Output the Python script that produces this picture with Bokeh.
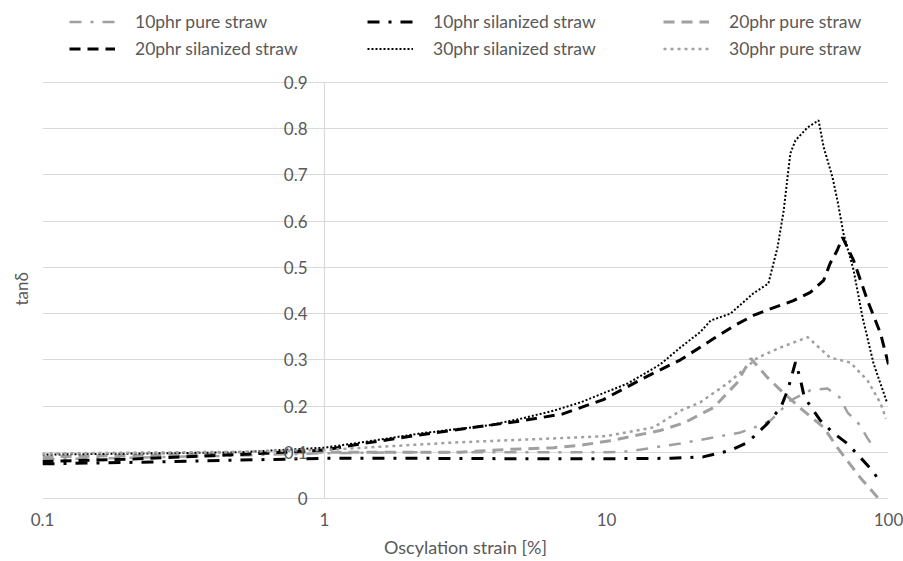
from bokeh.plotting import figure
from bokeh.models import (Range1d, FixedTicker, Legend, LegendItem, LabelSet,
                          ColumnDataSource, CustomJSTickFormatter, Title)
from bokeh.core.properties import value
from bokeh.embed import file_html
from bokeh.resources import INLINE

# ---- data ----
x_10_pure = [0.1, 0.2, 0.5, 1, 2, 5, 10, 12, 18.3, 24, 29.9, 35, 38.2, 44.9, 52.8, 60.8, 67, 71.6, 78.9, 84.3, 87]
y_10_pure = [0.085, 0.088, 0.093, 0.098, 0.1, 0.1, 0.1, 0.102, 0.119, 0.132, 0.143, 0.158, 0.169, 0.212, 0.234, 0.238, 0.219, 0.186, 0.16, 0.13, 0.118]

x_10_sil = [0.1, 0.2, 0.5, 1, 2, 5, 10, 17, 22, 27.5, 31.6, 37.2, 41.5, 43.9, 46.8, 48.6, 50.3, 57.3, 63.4, 71.4, 79.4, 87.5, 92.6, 95]
y_10_sil = [0.075, 0.078, 0.083, 0.087, 0.087, 0.086, 0.086, 0.087, 0.09, 0.104, 0.121, 0.162, 0.197, 0.234, 0.295, 0.26, 0.219, 0.169, 0.143, 0.119, 0.089, 0.061, 0.039, 0.032]

x_20_pure = [0.1, 0.2, 0.5, 1, 2, 3, 4.4, 6.5, 8.1, 10.3, 15.5, 18.9, 24, 29, 32.5, 37.2, 41.5, 49.9, 58.9, 65.9, 79.4, 91, 93]
y_20_pure = [0.09, 0.093, 0.097, 0.1, 0.1, 0.1, 0.106, 0.11, 0.115, 0.125, 0.147, 0.164, 0.197, 0.25, 0.303, 0.262, 0.234, 0.19, 0.154, 0.11, 0.045, 0.004, 0.0]

x_20_sil = [0.1, 0.2, 0.5, 1, 1.34, 2.2, 3.8, 5, 7, 9.75, 13.5, 18.3, 24, 28.4, 33.2, 39.2, 46, 52.8, 58.9, 62, 65.8, 68.7, 75.2, 84.3, 93.7, 100]
y_20_sil = [0.08, 0.085, 0.095, 0.105, 0.118, 0.138, 0.158, 0.168, 0.183, 0.214, 0.26, 0.3, 0.346, 0.374, 0.396, 0.413, 0.428, 0.446, 0.472, 0.508, 0.537, 0.565, 0.515, 0.428, 0.357, 0.29]

x_30_sil = [0.1, 0.2, 0.5, 1, 1.34, 2.2, 3.8, 5, 6.5, 8.1, 11.9, 15.5, 18.3, 21.5, 23.4, 27.5, 33.2, 37.5, 40.4, 42.5, 44, 44.9, 46.8, 51.7, 56.5, 58.9, 63.3, 65.9, 69.2, 75.2, 80.9, 88.5, 99]
y_30_sil = [0.095, 0.097, 0.1, 0.11, 0.121, 0.141, 0.158, 0.173, 0.19, 0.208, 0.249, 0.29, 0.327, 0.36, 0.385, 0.4, 0.444, 0.465, 0.543, 0.623, 0.703, 0.747, 0.775, 0.803, 0.818, 0.76, 0.695, 0.645, 0.574, 0.494, 0.392, 0.292, 0.206]

x_30_pure = [0.1, 0.2, 0.5, 1, 2.86, 6.5, 10, 14.7, 18.3, 21.5, 27, 34.4, 41.5, 51.7, 62, 73.3, 84.3, 93.7, 98]
y_30_pure = [0.097, 0.099, 0.101, 0.105, 0.121, 0.13, 0.135, 0.154, 0.19, 0.208, 0.25, 0.305, 0.327, 0.349, 0.305, 0.294, 0.255, 0.206, 0.173]

x_ticks = [0.1, 1, 10, 100]
y_ticks = [0, 0.1, 0.2, 0.3, 0.4, 0.5, 0.6, 0.7, 0.8, 0.9]
y_tick_labels = ["0", "0.1", "0.2", "0.3", "0.4", "0.5", "0.6", "0.7", "0.8", "0.9"]
x_title = "Oscylation strain [%]"
y_title = "tanδ"

FONT = "Lato"
TXT = "#595959"
GRID = "#d9d9d9"
BLACK = "#000000"
GREY = "#a0a0a0"

# frame spans the whole height above the x labels; the value axis 0..0.9
# sits inside it, with room above for the legend (as in the reference)
p = figure(width=903, height=561, x_axis_type="log",
           x_range=Range1d(0.1, 100), y_range=Range1d(-0.0303, 1.0774),
           output_backend="svg", toolbar_location=None, title=None,
           min_border_left=42, min_border_right=15, min_border_top=0,
           min_border_bottom=49)
p.outline_line_color = None
p.background_fill_color = "white"

# grid
p.ygrid.ticker = FixedTicker(ticks=y_ticks)
p.ygrid.grid_line_color = GRID
p.ygrid.grid_line_width = 1.2
p.xgrid.visible = False
# vertical value axis line at x = 1, from 0 to 0.9
p.segment(x0=[x_ticks[1]], y0=[y_ticks[0]], x1=[x_ticks[1]], y1=[y_ticks[-1]],
          line_color=GRID, line_width=1.2)

# x axis
xa = p.xaxis[0]
xa.ticker = FixedTicker(ticks=x_ticks)
xa.formatter = CustomJSTickFormatter(code="return tick >= 1 ? tick.toFixed(0) : tick.toFixed(1);")
xa.axis_line_color = None
xa.major_tick_line_color = None
xa.minor_tick_line_color = None
xa.major_tick_out = 0
xa.major_tick_in = 0
xa.minor_tick_out = 0
xa.major_label_standoff = 0
xa.major_label_text_font = FONT
xa.major_label_text_font_size = "17px"
xa.major_label_text_color = TXT
xa.axis_label = x_title
xa.axis_label_text_font = FONT
xa.axis_label_text_font_size = "18px"
xa.axis_label_text_font_style = "normal"
xa.axis_label_text_color = TXT
xa.axis_label_standoff = 7

# the default left axis is hidden; its tick labels are drawn at x = 1
p.yaxis[0].visible = False

# value-axis title on the left, centred on the 0..0.9 span
p.add_layout(Title(text=y_title, align="left", vertical_align="middle",
                   standoff=19, offset=207, text_font=FONT,
                   text_font_size="17px", text_font_style="normal",
                   text_color=TXT), "left")

# value tick labels next to the x = 1 axis line
ysrc = ColumnDataSource(dict(x=[x_ticks[1]] * len(y_ticks), y=y_ticks, t=y_tick_labels))
p.add_layout(LabelSet(x="x", y="y", text="t", source=ysrc, x_offset=-17,
                      text_align="right", text_baseline="middle",
                      text_font=value(FONT), text_font_size=value("17px"),
                      text_color=TXT))

# series
r10p = p.line(x_10_pure, y_10_pure, line_color=GREY, line_width=2.5, line_dash="12 9 3 9")
r10s = p.line(x_10_sil, y_10_sil, line_color=BLACK, line_width=3, line_dash="12 9 3 9")
r20p = p.line(x_20_pure, y_20_pure, line_color=GREY, line_width=3, line_dash="11 7")
r20s = p.line(x_20_sil, y_20_sil, line_color=BLACK, line_width=3, line_dash="11 7")
r30s = p.line(x_30_sil, y_30_sil, line_color=BLACK, line_width=2, line_dash="2 2")
r30p = p.line(x_30_pure, y_30_pure, line_color=GREY, line_width=2.5, line_dash="3 4")

cols = [
    [("10phr pure straw", r10p), ("20phr silanized straw", r20s)],
    [("10phr silanized straw", r10s), ("30phr silanized straw", r30s)],
    [("20phr pure straw", r20p), ("30phr pure straw", r30p)],
]
col_x = [27, 325, 621]
for cx, its in zip(col_x, cols):
    leg = Legend(items=[LegendItem(label=l, renderers=[r]) for l, r in its],
                 location=(cx, 453), orientation="vertical",
                 glyph_width=46, glyph_height=21, label_height=21,
                 label_standoff=20, spacing=6, padding=0, margin=0,
                 label_text_font=FONT, label_text_font_size="17.5px",
                 label_text_color=TXT, background_fill_alpha=0,
                 border_line_color=None)
    p.add_layout(leg, "center")

open("out.html", "w").write(file_html(p, INLINE))
